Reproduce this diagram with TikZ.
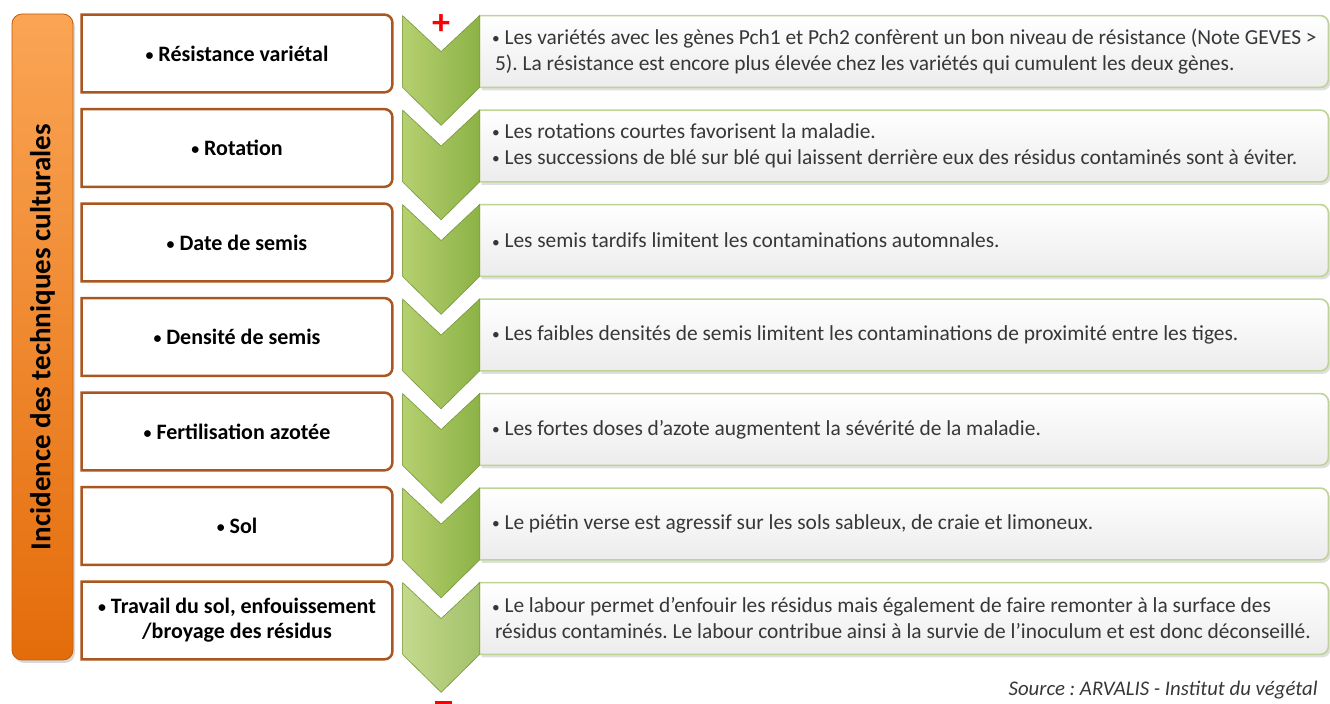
\documentclass[tikz,border=0pt]{standalone}
\usepackage{fontspec}
\setmainfont{Carlito}
\usepackage{tikz}
\usetikzlibrary{calc,backgrounds,shadows}
\frenchspacing
\definecolor{titletop}{RGB}{250,165,85}
\definecolor{titlebottom}{RGB}{228,108,10}
\definecolor{factorline}{RGB}{170,86,32}
\definecolor{detailline}{RGB}{190,212,150}
\definecolor{detailfill}{RGB}{236,236,236}
\definecolor{detailgray}{RGB}{55,55,55}
\definecolor{chevlight}{RGB}{182,208,112}
\definecolor{chevdark}{RGB}{140,178,70}
\tikzstyle{title}=[
  rectangle, rounded corners=5pt, inner sep=0pt, minimum width=30.5pt, minimum height=323pt,
  top color=titletop, bottom color=titlebottom, draw=titlebottom!85!black, line width=0.4pt,
  drop shadow={opacity=0.3,shadow xshift=1pt,shadow yshift=-1.5pt},
  font=\fontsize{14.5}{16}\selectfont\bfseries
]
\tikzstyle{factor}=[
  rectangle, inner sep=0pt, minimum width=155pt, minimum height=38.5pt, align=center,
  font=\fontsize{11}{12.5}\selectfont\bfseries
]
\tikzstyle{factorframe}=[
  draw=factorline, line width=1.25pt, fill=white
]
\tikzstyle{detail}=[
  rectangle, inner sep=0pt, minimum width=424pt, minimum height=35.5pt
]
\tikzstyle{detailframe}=[
  draw=detailline, line width=0.8pt, top color=white, bottom color=detailfill,
  drop shadow={opacity=0.25,shadow xshift=1pt,shadow yshift=-1.5pt}
]
\tikzstyle{detailtext}=[
  anchor=west, inner sep=0pt, align=left, text=detailgray, font=\fontsize{10.7}{13}\selectfont
]
\tikzstyle{chevron}=[
  left color=chevlight, right color=chevdark, draw=chevdark!85!black, line width=0.3pt
]
\tikzstyle{sign}=[
  inner sep=0pt, text=red, font=\fontsize{18}{18}\selectfont\bfseries
]
\tikzstyle{source}=[
  anchor=east, inner sep=0pt, text=detailgray, font=\fontsize{10.4}{12}\selectfont\itshape
]
\newcommand{\bul}[0]{\raisebox{0.08ex}{\scalebox{0.72}{\textbullet}}}
\newcommand{\rframe}[2]{%
  \path[#2] (#1.south west) -- (#1.north west) -- ($(#1.north east)+(-4pt,0pt)$)
    arc[start angle=90,end angle=0,radius=4pt] -- ($(#1.south east)+(0pt,4pt)$)
    arc[start angle=0,end angle=-90,radius=4pt] -- cycle;}
\newcommand{\chev}[2]{%
  \path[#2] ($(#1.north west)+(-38.5pt,0pt)$) -- ($(#1.north west)+(-19.25pt,-18pt)$)
    -- (#1.north west) -- (#1.south west) -- ($(#1.south west)+(-19.25pt,-19pt)$)
    -- ($(#1.south west)+(-38.5pt,0pt)$) -- cycle;}

\begin{document}
\begin{tikzpicture}
        \def\lvl{47.25pt}
        \useasboundingbox (0pt,0pt) rectangle (665pt,-352pt);
        \node (title) at (21.25pt,-168.5pt) [title] {\rotatebox{90}{Incidence des techniques culturales}};
        \node (f1) at (118.5pt,-26.75pt) [factor] {\bul{} Résistance variétal};
        \node (f2) at ($(f1) + (0pt,-\lvl)$) [factor] {\bul{} Rotation};
        \node (f3) at ($(f2) + (0pt,-\lvl)$) [factor] {\bul{} Date de semis};
        \node (f4) at ($(f3) + (0pt,-\lvl)$) [factor] {\bul{} Densité de semis};
        \node (f5) at ($(f4) + (0pt,-\lvl)$) [factor] {\bul{} Fertilisation azotée};
        \node (f6) at ($(f5) + (0pt,-\lvl)$) [factor] {\bul{} Sol};
        \node (f7) at ($(f6) + (0pt,-\lvl)$) [factor] {\bul{} Travail du sol, enfouissement\\/broyage des résidus};

        \node (d1) at ($(f1) + (333.5pt,1pt)$) [detail] {};
        \node (d2) at ($(f2) + (333.5pt,1pt)$) [detail] {};
        \node (d3) at ($(f3) + (333.5pt,1pt)$) [detail] {};
        \node (d4) at ($(f4) + (333.5pt,1pt)$) [detail] {};
        \node (d5) at ($(f5) + (333.5pt,1pt)$) [detail] {};
        \node (d6) at ($(f6) + (333.5pt,1pt)$) [detail] {};
        \node (d7) at ($(f7) + (333.5pt,1pt)$) [detail] {};

        \node (t1) at ($(d1.west) + (6pt,0pt)$) [detailtext] {\bul{} Les variétés avec les gènes Pch1 et Pch2 confèrent un bon niveau de résistance (Note GEVES >\\\hspace*{1.5pt}5). La résistance est encore plus élevée chez les variétés qui cumulent les deux gènes.};
        \node (t2) at ($(d2.west) + (6pt,0pt)$) [detailtext] {\bul{} Les rotations courtes favorisent la maladie.\\\bul{} Les successions de blé sur blé qui laissent derrière eux des résidus contaminés sont à éviter.};
        \node (t3) at ($(d3.west) + (6pt,0pt)$) [detailtext] {\bul{} Les semis tardifs limitent les contaminations automnales.};
        \node (t4) at ($(d4.west) + (6pt,0pt)$) [detailtext] {\bul{} Les faibles densités de semis limitent les contaminations de proximité entre les tiges.};
        \node (t5) at ($(d5.west) + (6pt,0pt)$) [detailtext] {\bul{} Les fortes doses d’azote augmentent la sévérité de la maladie.};
        \node (t6) at ($(d6.west) + (6pt,0pt)$) [detailtext] {\bul{} Le piétin verse est agressif sur les sols sableux, de craie et limoneux.};
        \node (t7) at ($(d7.west) + (6pt,0pt)$) [detailtext] {\bul{} Le labour permet d’enfouir les résidus mais également de faire remonter à la surface des\\\hspace*{1.5pt}résidus contaminés. Le labour contribue ainsi à la survie de l’inoculum et est donc déconseillé.};

        \node (plus) at (220.5pt,-12.5pt) [sign] {+};
        \node (source) at (659pt,-345pt) [source] {Source : ARVALIS - Institut du végétal};

        \begin{scope}[on background layer]
          \rframe{f1}{factorframe}
          \rframe{f2}{factorframe}
          \rframe{f3}{factorframe}
          \rframe{f4}{factorframe}
          \rframe{f5}{factorframe}
          \rframe{f6}{factorframe}
          \rframe{f7}{factorframe}

          \rframe{d1}{detailframe}
          \rframe{d2}{detailframe}
          \rframe{d3}{detailframe}
          \rframe{d4}{detailframe}
          \rframe{d5}{detailframe}
          \rframe{d6}{detailframe}
          \rframe{d7}{detailframe}

          \chev{d1}{chevron}
          \chev{d2}{chevron}
          \chev{d3}{chevron}
          \chev{d4}{chevron}
          \chev{d5}{chevron}
          \chev{d6}{chevron}
          \chev{d7}{chevron, left color=chevlight!80!white, right color=chevdark!80!white}

          \fill[red] (217.5pt,-350.5pt) rectangle (226pt,-353pt);
        \end{scope}
\end{tikzpicture}
\end{document}
